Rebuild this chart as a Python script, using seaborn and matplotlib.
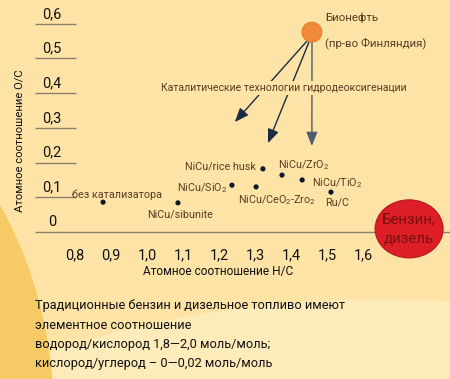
import matplotlib
matplotlib.use("Agg")
import matplotlib.pyplot as plt
import seaborn as sns
import pandas as pd
from matplotlib.patches import Ellipse

# ---- data ----
labels = ["без катализатора", "NiCu/sibunite", "NiCu/SiO$_2$", "NiCu/CeO$_2$-Zro$_2$",
          "NiCu/rice husk", "NiCu/ZrO$_2$", "NiCu/TiO$_2$", "Ru/C"]
hc = [0.878, 1.086, 1.236, 1.303, 1.322, 1.375, 1.431, 1.511]
oc = [0.086, 0.084, 0.135, 0.130, 0.182, 0.164, 0.150, 0.115]
bio_hc, bio_oc = 1.458, 0.576
fuel_hc, fuel_oc = 1.728, 0.009
x_ticks = [0.8, 0.9, 1.0, 1.1, 1.2, 1.3, 1.4, 1.5, 1.6]
y_ticks = [0, 0.1, 0.2, 0.3, 0.4, 0.5, 0.6]
arrow_targets_hc = [1.244, 1.336, 1.458]
arrow_targets_oc = [0.317, 0.256, 0.248]

df = pd.DataFrame({"hc": hc, "oc": oc, "label": labels})

sns.set_theme(style="white")
FONT = ["Roboto", "DejaVu Sans"]
plt.rcParams["font.family"] = FONT
plt.rcParams["mathtext.fontset"] = "custom"
plt.rcParams["mathtext.rm"] = "Roboto"
plt.rcParams["mathtext.it"] = "Roboto"

BG = "#FDE3A6"
BROWN = "#5E3A22"
fig = plt.figure(figsize=(4.5, 3.79), dpi=100)
fig.patch.set_facecolor(BG)
ax = fig.add_axes([0, 0, 1, 1])
ax.set_facecolor(BG)
renderer = fig.canvas.get_renderer()

# pixel-to-data helpers (layout only)
X0, XS, Y0, YS = 75, 360.0, 232, 347.0
def dx(px): return 0.8 + (px - X0) / XS
def dy(py): return (Y0 - py) / YS
ax.set_xlim(dx(0), dx(450))
ax.set_ylim(dy(379), dy(0))
ax.set_axis_off()


def fit_size(s, width_px, **kw):
    t = fig.text(0, 0, s, fontsize=10, **kw)
    w = t.get_window_extent(renderer).width
    t.remove()
    return 10 * width_px / w


# background decorations (axes coords)
ax.add_patch(Ellipse((0.85, -0.45), 2.4, 1.32, transform=ax.transAxes,
                     facecolor="#FEEBBA", edgecolor="none", zorder=0))
ax.add_patch(Ellipse((-0.5, -0.1), 1.24, 1.89, transform=ax.transAxes,
                     facecolor="#F6CB66", edgecolor="none", zorder=0))

# y "ticks" with underlines
ax.hlines(y_ticks[1:], dx(35), dx(76), color="#8A826E", lw=1.0, zorder=1)
ax.hlines([0], dx(35), dx(450), color="#8A826E", lw=1.0, zorder=1)
tick_fs = fit_size("0,6", 19)
for v in y_ticks:
    ax.text(dx(52), v + 10 / YS, ("%.1f" % v).replace(".", ",") if v else "0",
            ha="center", va="center", fontsize=tick_fs, color="#111111", zorder=3)
for v in x_ticks:
    ax.text(v, dy(255), ("%.1f" % v).replace(".", ","), ha="center", va="center",
            fontsize=tick_fs, color="#111111", zorder=3)
ax.text(dx(218), dy(271), "Атомное соотношение H/C", ha="center", va="center",
        fontsize=fit_size("Атомное соотношение H/C", 150), color="#111111")
ax.text(dx(20), dy(141), "Атомное соотношение O/C", ha="center", va="center",
        fontsize=fit_size("Атомное соотношение O/C", 142), color="#111111", rotation=90)

# points
sns.scatterplot(data=df, x="hc", y="oc", ax=ax, color="#101828", s=14,
                edgecolor="none", zorder=4, legend=False)

lab_fs = fit_size("NiCu/rice husk", 71)
label_pos = {
    "без катализатора": (72, 195, "left"),
    "NiCu/sibunite": (180, 214, "center"),
    "NiCu/SiO$_2$": (227, 188, "right"),
    "NiCu/CeO$_2$-Zro$_2$": (277, 200, "center"),
    "NiCu/rice husk": (256, 167, "right"),
    "NiCu/ZrO$_2$": (278, 165, "left"),
    "NiCu/TiO$_2$": (312, 183, "left"),
    "Ru/C": (337, 202, "center"),
}
for lab in labels:
    px, py, ha = label_pos[lab]
    ax.text(dx(px), dy(py), lab, ha=ha, va="center", fontsize=lab_fs,
            color=BROWN, zorder=3)

# bio-oil circle
ax.add_patch(Ellipse((bio_hc, bio_oc), 20 / XS, 20 / YS, facecolor="#F08A3A",
                     edgecolor="#E87828", lw=0.6, zorder=5))
bio_fs = fit_size("(пр-во Финляндия)", 102)
ax.text(dx(325), dy(18), "Бионефть", ha="left", va="center", fontsize=bio_fs, color=BROWN)
ax.text(dx(325), dy(43), "(пр-во Финляндия)", ha="left", va="center", fontsize=bio_fs, color=BROWN)

# arrows
starts = [(dx(307), dy(41)), (dx(309), dy(42)), (dx(312), dy(42))]
cols = ["#1C2A44", "#1C2A44", "#4E5C72"]
for (sx, sy), tx, ty, c in zip(starts, arrow_targets_hc, arrow_targets_oc, cols):
    ax.annotate("", xy=(tx, ty), xytext=(sx, sy), zorder=2,
                arrowprops=dict(arrowstyle="-|>,head_length=0.7,head_width=0.28",
                                color=c, lw=1.0, shrinkA=0, shrinkB=0))
cat = "Каталитические технологии гидродеоксигенации"
ax.text(dx(284), dy(88), cat, ha="center", va="center",
        fontsize=fit_size(cat, 245), color=BROWN, zorder=3,
        bbox=dict(boxstyle="square,pad=0.2", facecolor=BG, edgecolor="none"))

# fuel ellipse
ax.add_patch(Ellipse((fuel_hc, fuel_oc), 68 / XS, 58 / YS, facecolor="#DE1E26",
                     edgecolor="#B01820", lw=0.8, zorder=5))
ax.text(fuel_hc, fuel_oc, "Бензин,\nдизель", ha="center", va="center",
        fontsize=fit_size("Бензин,", 54), color="#7A1010", zorder=6, linespacing=1.5)

# bottom note
note = ["Традиционные бензин и дизельное топливо имеют",
        "элементное соотношение",
        "водород/кислород 1,8—2,0 моль/моль;",
        "кислород/углерод – 0—0,02 моль/моль"]
note_fs = fit_size("водород/кислород", 114)
for i, line in enumerate(note):
    ax.text(dx(35), dy(306 + 19.3 * i), line, ha="left", va="center",
            fontsize=note_fs, color="#111111", zorder=3)

fig.savefig("out.png", dpi=100, facecolor=BG)
